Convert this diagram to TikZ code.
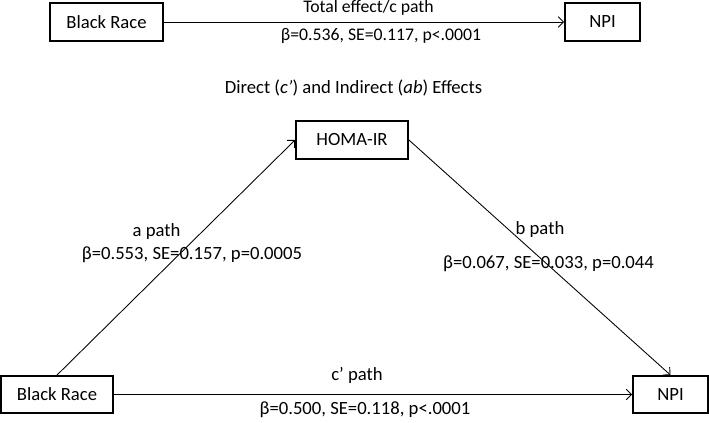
\documentclass[tikz,border=0pt]{standalone}
\usepackage{fontspec}
\setmainfont{Carlito}
\usetikzlibrary{arrows.meta}
\begin{document}
\begin{tikzpicture}[x=0.75pt,y=-0.75pt,
  box/.style={draw,line width=1.4pt,inner sep=0pt,font=\fontsize{14}{16}\selectfont},
  lbl/.style={inner sep=0pt,font=\fontsize{14}{16}\selectfont},
  toplbl/.style={inner sep=0pt,font=\fontsize{13.3}{15}\selectfont},
  arr/.style={line width=0.65pt,-{Straight Barb[length=4pt,width=8pt,line width=0.65pt]}}]
\useasboundingbox (0,0) rectangle (709,423);
% top
\node[box,minimum width=113*0.75pt,minimum height=38*0.75pt] (br1) at (106.5,22) {Black Race};
\node[box,minimum width=75*0.75pt,minimum height=38*0.75pt] (npi1) at (602.5,22) {NPI};
\draw[arr] (br1) -- (npi1);
\node[toplbl] (tl) at (368.5,8) {Total effect/c path};
\node[toplbl] (tb) at (381,36) {β=0.536, SE=0.117, p<.0001};
% title
\node[lbl] (title) at (353.5,88) {Direct (\textit{c’}) and Indirect (\textit{ab}) Effects};
% mediation
\node[box,minimum width=112*0.75pt,minimum height=38*0.75pt] (homa) at (352,140) {HOMA-IR};
\node[box,minimum width=112*0.75pt,minimum height=37*0.75pt] (br2) at (57,394.5) {Black Race};
\node[box,minimum width=75*0.75pt,minimum height=37*0.75pt] (npi2) at (670.5,394.5) {NPI};
\draw[arr] (br2.north) -- (homa.west);
\draw[arr] (homa.east) -- (npi2.north);
\draw[arr] (br2) -- (npi2);
\node[lbl] (al) at (156.5,232) {a path};
\node[lbl] (ab) at (192,255) {β=0.553, SE=0.157, p=0.0005};
\node[lbl] (bl) at (540,230) {b path};
\node[lbl] (bb) at (548.5,264) {β=0.067, SE=0.033, p=0.044};
\node[lbl] (cl) at (357,375) {c’ path};
\node[lbl] (cb) at (365,410) {β=0.500, SE=0.118, p<.0001};
\end{tikzpicture}
\end{document}
